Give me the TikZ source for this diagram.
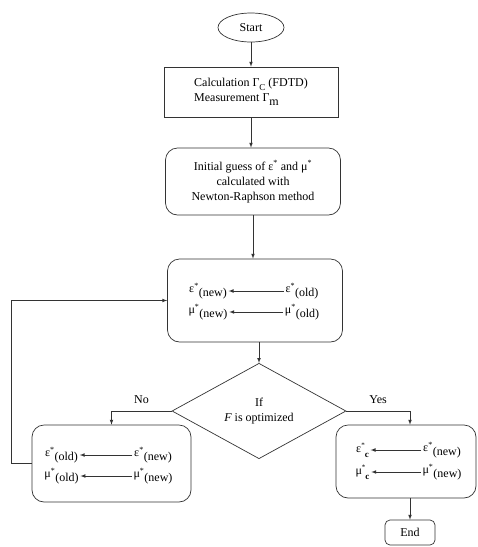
\documentclass[tikz,border=0pt]{standalone}
\usepackage{fontspec}
\setmainfont{Liberation Serif}
\usepackage{tikz}
\usetikzlibrary{shapes.geometric, arrows, positioning, calc}
\tikzstyle{startstop} = [ellipse, minimum width=66pt, minimum height=29pt, text centered, draw=black!80]
\tikzstyle{process} = [rectangle, minimum width=174pt, minimum height=50pt, draw=black!80]
\tikzstyle{update} = [rectangle, rounded corners=12pt, draw=black!80]
\tikzstyle{decision} = [diamond, minimum width=174pt, minimum height=82pt, inner sep=0pt, align=center, draw=black!80]
\tikzstyle{var} = [inner sep=1.5pt]
\tikzstyle{arrow} = [->,>=latex, draw=black!80]

\newcommand{\sstar}{\textsuperscript{*}}
\newcommand{\lowtxt}[1]{\raisebox{-0.7ex}{#1}}
\newcommand{\epsvar}[1]{ε\sstar\lowtxt{#1}}
\newcommand{\muvar}[1]{μ\sstar\lowtxt{#1}}
\newcommand{\cvar}[1]{#1\raisebox{1ex}{\scriptsize*}\raisebox{-0.8ex}{\small\textbf{c}}}

\begin{document}
\begin{tikzpicture}[x=1pt, y=-1pt, font=\fontsize{12}{15}\selectfont, line width=0.7pt]
    \useasboundingbox (0,0) rectangle (478,547);

    % Start and first steps
    \node[startstop] (start) at (251,27.5) {Start};
    \node[process, align=left] (calc) at (251,92) {Calculation Γ\lowtxt{\small C} (FDTD)\\Measurement Γ\lowtxt{m}};
    \node[update, minimum width=175pt, minimum height=67pt, align=center] (guess) at (253,181.5) {Initial guess of ε\sstar{} and μ\sstar\\calculated with\\Newton-Raphson method};

    % Update box
    \node[update, minimum width=175pt, minimum height=83pt] (upd) at (255,300.5) {};
    \node[var] (en) at (208,291) {\epsvar{(new)}};
    \node[var] (eo) at (302,291) {\epsvar{(old)}};
    \node[var] (mn) at (208,312) {\muvar{(new)}};
    \node[var] (mo) at (302,312) {\muvar{(old)}};

    % Decision
    \node[decision] (opt) at (259,411) {If\\\textit{F} is optimized};

    % No branch
    \node[update, minimum width=159pt, minimum height=77pt] (back) at (111.5,463.5) {};
    \node[var] (bo) at (61.5,455) {\epsvar{(old)}};
    \node[var] (bn) at (153,455) {\epsvar{(new)}};
    \node[var] (bmo) at (61.5,476) {\muvar{(old)}};
    \node[var] (bmn) at (153,476) {\muvar{(new)}};

    % Yes branch
    \node[update, minimum width=140pt, minimum height=73pt] (final) at (406,461.5) {};
    \node[var] (ec) at (362.5,450) {\cvar{ε}};
    \node[var] (fn) at (442,450) {\epsvar{(new)}};
    \node[var] (mc) at (362.5,472) {\cvar{μ}};
    \node[var] (fmn) at (442,472) {\muvar{(new)}};
    \node[update, rounded corners=5pt, minimum width=50pt, minimum height=25pt] (end) at (410,532.5) {End};

    % Connections
    \draw[arrow] (start) -- (calc);
    \draw[arrow] (calc.south) -- (calc.south |- guess.north);
    \draw[arrow] (guess.south) -- (guess.south |- upd.north);
    \draw[arrow] (opt.north |- upd.south) -- (opt.north);
    \draw[arrow] (eo) -- (en);
    \draw[arrow] (mo) -- (mn);
    \draw[arrow] (bn) -- (bo);
    \draw[arrow] (bmn) -- (bmo);
    \draw[arrow] (fn) -- (ec);
    \draw[arrow] (fmn) -- (mc);
    \draw[arrow] (opt.west) -| node[above=4pt, pos=0.25] {No} (back.north);
    \draw[arrow] (opt.east) -| node[above=4pt, pos=0.25] {Yes} (end.north |- final.north);
    \draw[arrow] (end.north |- final.south) -- (end.north);
    \draw[arrow] (back.west) -- ++(-20,0) |- (upd.west);

\end{tikzpicture}
\end{document}
